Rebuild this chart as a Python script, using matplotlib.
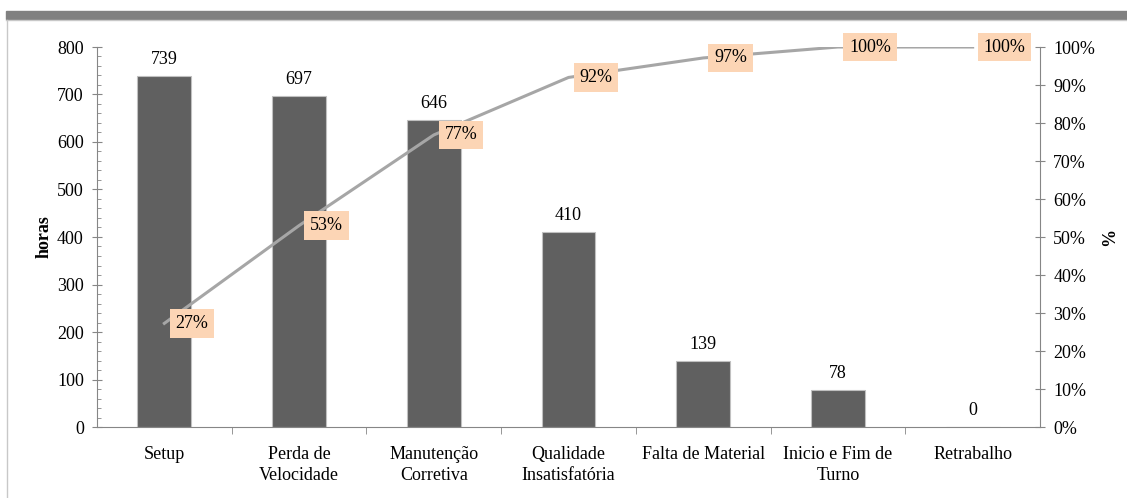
import numpy as np
import matplotlib
matplotlib.use("Agg")
import matplotlib.pyplot as plt
from matplotlib.patches import Rectangle
from matplotlib.lines import Line2D

# dados do pareto de paradas
categorias = ["Setup", "Perda de\nVelocidade", "Manutenção\nCorretiva",
              "Qualidade\nInsatisfatória", "Falta de Material",
              "Inicio e Fim de\nTurno", "Retrabalho"]
horas = [739, 697, 646, 410, 139, 78, 0]

acumulado = np.cumsum(horas) / sum(horas) * 100

plt.rcParams['font.family'] = ['Liberation Serif', 'DejaVu Serif']
plt.rcParams['font.size'] = 13

W, H = 1127, 498
fig = plt.figure(figsize=(W / 100, H / 100), dpi=100)

# moldura da pagina
fig.patches.append(Rectangle((6 / W, 1 - 19 / H), 1 - 6 / W, 8 / H,
                             transform=fig.transFigure, color="#808080", zorder=0))
fig.lines.append(Line2D([6 / W, 1], [1 - 20.5 / H, 1 - 20.5 / H],
                        transform=fig.transFigure, color="#c8c8c8", lw=1))
fig.lines.append(Line2D([6.5 / W, 6.5 / W], [0, 1 - 20 / H],
                        transform=fig.transFigure, color="#c8c8c8", lw=1))

ax = fig.add_axes([97 / W, 1 - 427 / H, (1040 - 97) / W, (427 - 47) / H])
x = np.arange(len(categorias))

barras = ax.bar(x, horas, width=0.4, color="#606060", edgecolor="#c0c0c0",
                linewidth=0.8, zorder=2)
for xi, v in zip(x, horas):
    ax.annotate(str(v), (xi, v), xytext=(0, 8), textcoords="offset pixels",
                ha="center", va="bottom", fontsize=13)

ax.set_xlim(-0.5, len(categorias) - 0.5)
ax.set_ylim(0, 800)
ax.set_yticks(np.arange(0, 801, 100))
ax.set_yticks(np.arange(0, 801, 20), minor=True)
ax.tick_params(axis="y", which="major", direction="inout", length=7,
               color="#868686", pad=6)
ax.tick_params(axis="y", which="minor", direction="in", length=3,
               color="#868686")
ax.set_xticks(x)
ax.set_xticklabels(categorias, linespacing=1.3)
ax.set_xticks(np.arange(0.5, len(categorias) - 0.5, 1), minor=True)
ax.tick_params(axis="x", which="major", length=0, pad=14)
ax.tick_params(axis="x", which="minor", direction="out", length=5,
               color="#868686")

for lado in ["top", "right"]:
    ax.spines[lado].set_visible(False)
for lado in ["left", "bottom"]:
    ax.spines[lado].set_color("#868686")
ax.set_ylabel("horas", fontweight="bold", fontsize=13, labelpad=3)

# eixo secundario com o percentual acumulado
ax2 = ax.twinx()
ax2.plot(x, acumulado, color="#a6a6a6", lw=2.2, zorder=3)
for xi, p in zip(x, acumulado):
    ax2.annotate(f"{p:.0f}%", (xi, p), xytext=(11, 0),
                 textcoords="offset pixels", ha="left", va="center",
                 fontsize=13,
                 bbox=dict(boxstyle="square,pad=0.32", fc="#fcd5b5", ec="none"))
ax2.set_ylim(0, 100)
ax2.set_yticks(np.arange(0, 101, 10))
ax2.set_yticklabels([f"{t}%" for t in range(0, 101, 10)])
ax2.tick_params(axis="y", direction="inout", length=7, color="#868686", pad=6)
for lado in ["top", "left", "bottom"]:
    ax2.spines[lado].set_visible(False)
ax2.spines["right"].set_color("#868686")
ax2.set_ylabel("%", fontweight="bold", fontsize=13, labelpad=4)

fig.savefig("out.png", dpi=100)
